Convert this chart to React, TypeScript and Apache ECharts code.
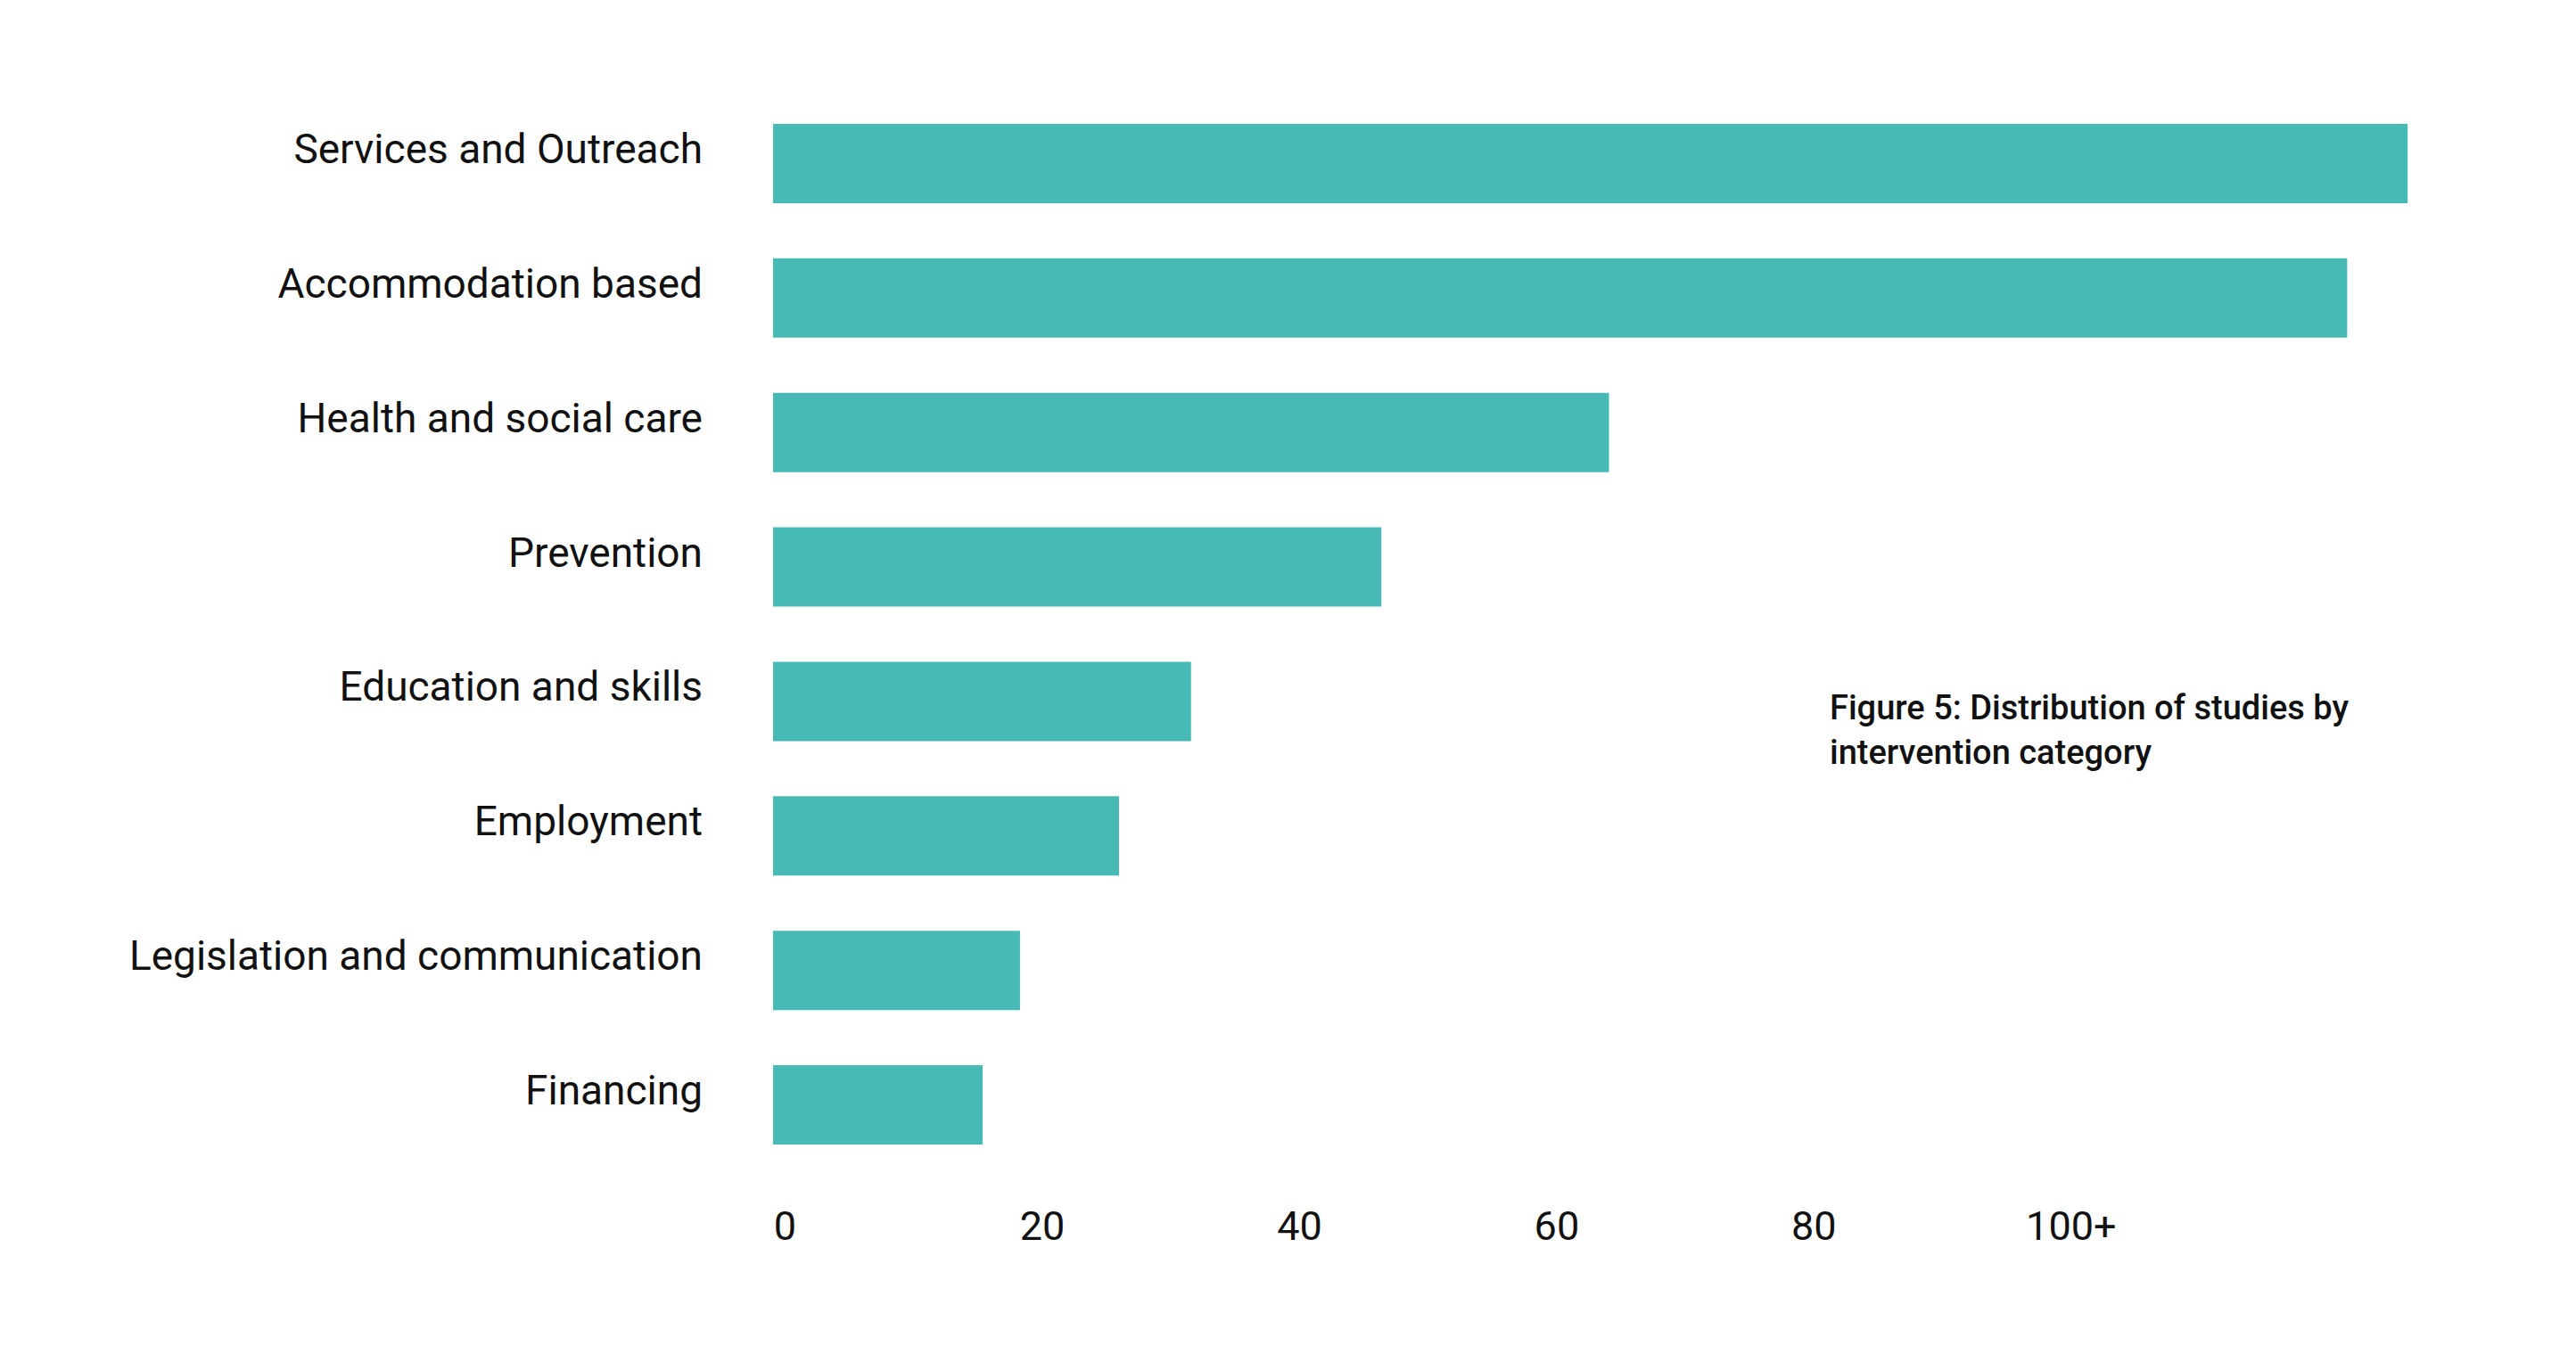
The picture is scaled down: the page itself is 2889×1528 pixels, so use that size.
import React, { useEffect, useRef } from "react";
import * as echarts from "echarts";

const categories = [
  "Services and Outreach",
  "Accommodation based",
  "Health and social care",
  "Prevention",
  "Education and skills",
  "Employment",
  "Legislation and communication",
  "Financing",
];
const studies = [127.1, 122.4, 65, 47.3, 32.5, 26.9, 19.2, 16.3];
const tickMax = 100;
const titleText = "Figure 5: Distribution of studies by\nintervention category";

export default function App() {
  const ref = useRef<HTMLDivElement>(null);
  useEffect(() => {
    document.body.style.margin = "0";
    const chart = echarts.init(ref.current!, null, { renderer: "svg" });
    chart.setOption({
      animation: false,
      backgroundColor: "#ffffff",
      title: {
        text: titleText,
        left: 2047,
        top: 764,
        textStyle: {
          fontFamily: "Roboto",
          fontWeight: 500,
          fontSize: 38,
          lineHeight: 50,
          color: "#111111",
        },
      },
      grid: { left: 867, top: 108, right: 147, bottom: 213, containLabel: false },
      xAxis: {
        type: "value",
        min: 0,
        max: 130,
        interval: 20,
        axisLine: { show: false },
        axisTick: { show: false },
        splitLine: { show: false },
        axisLabel: {
          margin: 38,
          fontFamily: "Roboto",
          fontSize: 45,
          color: "#111111",
          padding: [0, 0, 0, 27],
          showMaxLabel: false,
          formatter: (v: number) =>
            v > tickMax ? "" : v === tickMax ? tickMax + "+" : String(v),
        },
      },
      yAxis: {
        type: "category",
        inverse: true,
        data: categories,
        axisLine: { show: false },
        axisTick: { show: false },
        splitLine: { show: false },
        axisLabel: {
          margin: 79,
          fontFamily: "Roboto",
          fontSize: 46,
          color: "#111111",
          verticalAlign: "bottom",
          lineHeight: 33,
        },
      },
      series: [
        {
          type: "bar",
          data: studies,
          barWidth: 89,
          itemStyle: { color: "#48BAB5" },
        },
      ],
    });
    return () => chart.dispose();
  }, []);
  return <div ref={ref} style={{ width: 2889, height: 1528 }} />;
}
